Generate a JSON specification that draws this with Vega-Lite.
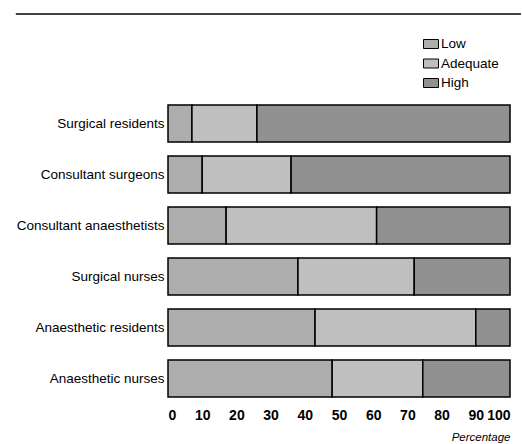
{
  "$schema": "https://vega.github.io/schema/vega-lite/v6.json",
  "padding": {"left": 15, "top": 13, "right": 1, "bottom": 0},
  "background": "white",
  "config": {"view": {"stroke": null}, "font": "Liberation Sans"},
  "spacing": 83,
  "vconcat": [
    {
      "width": 342,
      "height": 1,
      "data": {"values": [{"start": -44.5, "end": 103.2, "level": 1}]},
      "mark": {"type": "rule", "color": "black", "strokeWidth": 1.5},
      "encoding": {
        "x": {"field": "start", "type": "quantitative", "scale": {"domain": [0, 100], "nice": false, "zero": false}, "axis": null},
        "x2": {"field": "end"},
        "y": {"field": "level", "type": "quantitative", "scale": {"domain": [0, 1]}, "axis": null}
      }
    },
    {
      "width": 342,
      "height": 306,
      "data": {
        "values": [
          {"group": "Surgical residents", "level": "Low", "idx": 1, "pct": 7},
          {"group": "Surgical residents", "level": "Adequate", "idx": 2, "pct": 19},
          {"group": "Surgical residents", "level": "High", "idx": 3, "pct": 74},
          {"group": "Consultant surgeons", "level": "Low", "idx": 1, "pct": 10},
          {"group": "Consultant surgeons", "level": "Adequate", "idx": 2, "pct": 26},
          {"group": "Consultant surgeons", "level": "High", "idx": 3, "pct": 64},
          {"group": "Consultant anaesthetists", "level": "Low", "idx": 1, "pct": 17},
          {"group": "Consultant anaesthetists", "level": "Adequate", "idx": 2, "pct": 44},
          {"group": "Consultant anaesthetists", "level": "High", "idx": 3, "pct": 39},
          {"group": "Surgical nurses", "level": "Low", "idx": 1, "pct": 38},
          {"group": "Surgical nurses", "level": "Adequate", "idx": 2, "pct": 34},
          {"group": "Surgical nurses", "level": "High", "idx": 3, "pct": 28},
          {"group": "Anaesthetic residents", "level": "Low", "idx": 1, "pct": 43},
          {"group": "Anaesthetic residents", "level": "Adequate", "idx": 2, "pct": 47},
          {"group": "Anaesthetic residents", "level": "High", "idx": 3, "pct": 10},
          {"group": "Anaesthetic nurses", "level": "Low", "idx": 1, "pct": 48},
          {"group": "Anaesthetic nurses", "level": "Adequate", "idx": 2, "pct": 26.5},
          {"group": "Anaesthetic nurses", "level": "High", "idx": 3, "pct": 25.5}
        ]
      },
      "mark": {"type": "bar", "stroke": "black", "strokeWidth": 1.5},
      "encoding": {
        "y": {
          "field": "group",
          "type": "nominal",
          "sort": ["Surgical residents", "Consultant surgeons", "Consultant anaesthetists", "Surgical nurses", "Anaesthetic residents", "Anaesthetic nurses"],
          "scale": {"paddingInner": 0.27, "paddingOuter": 0.135},
          "axis": {"title": null, "ticks": false, "domain": false, "labelPadding": 4, "labelFontSize": 13.5, "labelColor": "black", "labelLimit": 300}
        },
        "x": {
          "field": "pct",
          "type": "quantitative",
          "stack": "zero",
          "scale": {"domain": [0, 100], "nice": false},
          "axis": {
            "values": [0, 10, 20, 30, 40, 50, 60, 70, 80, 90, 100],
            "grid": false, "ticks": false, "domain": false,
            "labelPadding": 4, "labelFontSize": 14, "labelFontWeight": "bold", "labelColor": "black", "labelFlush": true,
            "title": "Percentage", "titleFontStyle": "italic", "titleFontWeight": "normal", "titleFontSize": 11.5, "titleColor": "black", "titleAnchor": "end", "titlePadding": 9
          }
        },
        "color": {
          "field": "level",
          "type": "nominal",
          "scale": {"domain": ["Low", "Adequate", "High"], "range": ["#adadad", "#bfbfbf", "#919191"]},
          "legend": {
            "orient": "none", "legendX": 255, "legendY": 22, "title": null,
            "symbolType": "M-1,-0.6H1V0.6H-1Z", "symbolSize": 225, "symbolStrokeColor": "black", "symbolStrokeWidth": 1, "symbolOpacity": 1,
            "labelFontSize": 13.5, "labelColor": "black", "labelOffset": 2, "rowPadding": 4.5, "padding": 0
          }
        },
        "order": {"field": "idx", "type": "quantitative"}
      }
    }
  ]
}
